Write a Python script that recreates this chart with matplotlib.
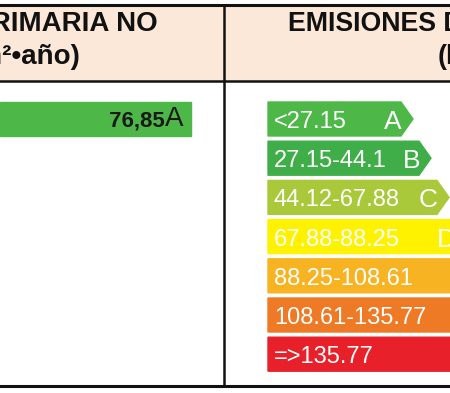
import matplotlib.pyplot as plt
from matplotlib.patches import Polygon, Rectangle

plt.rcParams['font.family'] = ['Liberation Sans', 'DejaVu Sans']

clases = ['A', 'B', 'C', 'D', 'E', 'F', 'G']
rangos = ['<27.15', '27.15-44.1', '44.12-67.88', '67.88-88.25',
          '88.25-108.61', '108.61-135.77', '=>135.77']
colores = ['#4db848', '#3fae49', '#a9c83a', '#fff200', '#f8b323', '#ee7a25', '#e8202a']
consumo = 76.85
clase_consumo = 'A'

fig = plt.figure(figsize=(4.5, 3.93), dpi=100)
ax = fig.add_axes([0, 0, 1, 1])
ax.set_xlim(0, 450)
ax.set_ylim(393, 0)
ax.axis('off')

# cabecera
ax.add_patch(Rectangle((0, 5), 450, 76, color='#fce8d9', zorder=0))
ax.plot([0, 450], [5, 5], color='#111111', lw=2.2)
ax.plot([0, 450], [81, 81], color='#111111', lw=1.8)
ax.plot([0, 450], [385.5, 385.5], color='#111111', lw=2.2)
ax.plot([224, 224], [5, 385.5], color='#111111', lw=1.8)

ax.text(158, 24, 'ENERGÍA PRIMARIA NO', ha='right', va='center',
        fontsize=20, fontweight='bold', color='#111111')
ax.text(80, 57, '(kWh/m²•año)', ha='right', va='center',
        fontsize=20, fontweight='bold', color='#111111')
ax.text(288, 24, 'EMISIONES DE CO2', ha='left', va='center',
        fontsize=19.3, fontweight='bold', color='#111111')
ax.text(438, 57, '(kgCO2/m²•año)', ha='left', va='center',
        fontsize=19.3, fontweight='bold', color='#111111')

# barra del consumo
i = clases.index(clase_consumo)
ax.add_patch(Rectangle((0, 102), 191, 34, color=colores[i]))
ax.text(165, 121, f'{consumo:.2f}'.replace('.', ','), ha='right', va='center',
        fontsize=16, fontweight='bold', color='#1a1a1a')
ax.text(165, 119, clase_consumo, ha='left', va='center',
        fontsize=20, color='#1a1a1a')

# escala de emisiones
x0 = 268
for k, (cl, rg, c) in enumerate(zip(clases, rangos, colores)):
    top = 102 + k * 39.2
    h = 34
    fin = 401 + k * 18
    pts = [(x0, top), (fin, top), (fin + 12, top + h / 2), (fin, top + h), (x0, top + h)]
    ax.add_patch(Polygon(pts, closed=True, color=c))
    ax.text(x0 + 6, top + h / 2 + 3, rg, ha='left', va='center',
            fontsize=17, color='white')
    ax.text(fin + 1, top + h / 2 + 3, cl, ha='right', va='center',
            fontsize=19, color='white')

fig.savefig('out.png', dpi=100)
